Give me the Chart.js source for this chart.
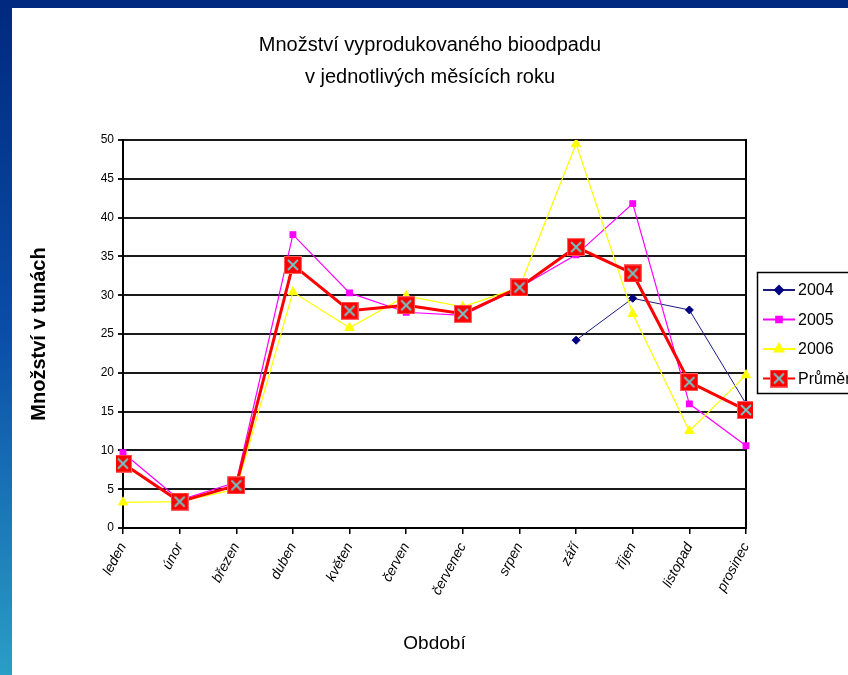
<!DOCTYPE html>
<html>
<head>
<meta charset="utf-8">
<script src="https://cdn.jsdelivr.net/npm/chart.js@4/dist/chart.umd.min.js"></script>
<style>
 html, body { margin: 0; padding: 0; background: #fff; }
 #top { position: absolute; left: 0; top: 0; width: 848px; height: 8px; background: #00297f; }
 #side { position: absolute; left: 0; top: 0; width: 12px; height: 675px; background: linear-gradient(#00297f, #0a4ea8 50%, #2a9ec6); }
 #wrap { position: absolute; left: 12px; top: 8px; width: 836px; height: 667px; }
</style>
</head>
<body>
<div id="top"></div>
<div id="side"></div>
<div id="wrap"><canvas id="myChart" width="836" height="667"></canvas></div>
<script>
const FONT = "'Liberation Sans Narrow', 'Arial Narrow', 'Liberation Sans', sans-serif";

let months = ['leden', 'únor', 'březen', 'duben', 'květen', 'červen', 'červenec', 'srpen', 'září', 'říjen', 'listopad', 'prosinec'];
let yearLabels = ['2004', '2005', '2006', 'Průměr'];
let data2004 = [null, null, null, null, null, null, null, null, 24.2, 29.6, 28.1, 16.0];
let data2005 = [9.7, 3.6, 5.9, 37.8, 30.3, 27.8, 27.4, 31.0, 35.2, 41.8, 16.0, 10.6];
let data2006 = [3.3, 3.4, 5.0, 30.4, 25.8, 29.9, 28.5, 31.0, 49.5, 27.6, 12.5, 19.7];
let dataAvg = [8.3, 3.4, 5.5, 33.9, 28.0, 28.7, 27.6, 31.0, 36.2, 32.8, 18.8, 15.2];
let yTicks = [0, 5, 10, 15, 20, 25, 30, 35, 40, 45, 50];

// red square with cyan cross, the "Průměr" marker
function avgMarker () {
 let c = document.createElement('canvas');
 c.width = 18; c.height = 18;
 let g = c.getContext('2d');
 g.fillStyle = '#ff0000';
 g.fillRect(0, 0, 18, 18);
 g.strokeStyle = '#ff6060';
 g.lineWidth = 1;
 g.strokeRect(0.5, 0.5, 17, 17);
 g.strokeStyle = '#6fc6c6';
 g.lineWidth = 2;
 g.beginPath();
 g.moveTo(4, 4); g.lineTo(14, 14);
 g.moveTo(14, 4); g.lineTo(4, 14);
 g.stroke();
 return c;
}
let marker = avgMarker();

// legend box drawn by hand, so the symbols are line + marker like in the original
const boxLegend = {
 id: 'boxLegend',
 afterDraw (chart) {
  let ctx = chart.ctx;
  let x0 = 745, y0 = 264;
  ctx.save();
  ctx.strokeStyle = '#000';
  ctx.lineWidth = 1.5;
  ctx.strokeRect(x0 + 0.5, y0 + 0.5, 110, 121);
  ctx.font = '16px ' + FONT;
  ctx.textBaseline = 'middle';
  chart.data.datasets.forEach((ds, i) => {
   let y = y0 + 18 + i * 29.5;
   ctx.strokeStyle = ds.borderColor;
   ctx.lineWidth = ds.legendLine;
   ctx.beginPath();
   ctx.moveTo(x0 + 6, y); ctx.lineTo(x0 + 38, y);
   ctx.stroke();
   if (ds.pointStyle instanceof HTMLCanvasElement) {
    ctx.drawImage(ds.pointStyle, x0 + 13, y - 9);
   } else {
    ctx.fillStyle = ds.pointBackgroundColor;
    ctx.strokeStyle = ds.pointBorderColor;
    Chart.helpers.drawPoint(ctx, {pointStyle: ds.pointStyle, radius: ds.pointRadius, borderWidth: 1, rotation: 0}, x0 + 22, y);
   }
   ctx.fillStyle = '#000';
   ctx.fillText(ds.label, x0 + 41, y + 1);
  });
  ctx.restore();
 }
};

function init () {
 let ctx = document.getElementById('myChart').getContext('2d');
 let myChart = new Chart(ctx, {
  type: 'line',
  data: {
   labels: months,
   datasets: [{
    label: yearLabels[0],
    data: data2004,
    borderColor: '#1a1a80',
    backgroundColor: '#1a1a80',
    pointBackgroundColor: '#000080',
    pointBorderColor: '#000080',
    borderWidth: 1,
    legendLine: 2,
    pointStyle: 'rectRot',
    pointRadius: 4,
    order: 3
   }, {
    label: yearLabels[1],
    data: data2005,
    borderColor: '#ff00ff',
    backgroundColor: '#ff00ff',
    pointBackgroundColor: '#ff00ff',
    pointBorderColor: '#ff00ff',
    borderWidth: 1.2,
    legendLine: 2,
    pointStyle: 'rect',
    pointRadius: 4,
    order: 2
   }, {
    label: yearLabels[2],
    data: data2006,
    borderColor: '#ffff00',
    backgroundColor: '#ffff00',
    pointBackgroundColor: '#ffff00',
    pointBorderColor: '#ffff00',
    borderWidth: 1.2,
    legendLine: 2,
    pointStyle: 'triangle',
    pointRadius: 5,
    order: 1
   }, {
    label: yearLabels[3],
    data: dataAvg,
    borderColor: '#ff0000',
    backgroundColor: '#ff0000',
    borderWidth: 3,
    legendLine: 2,
    pointStyle: marker,
    order: 0
   }]
  },
  options: {
   animation: false,
   responsive: false,
   spanGaps: false,
   layout: { padding: { left: 0, right: 0, top: 0, bottom: 7 } },
   plugins: {
    legend: { display: false },
    tooltip: { enabled: false },
    title: {
     display: true,
     text: ['Množství vyprodukovaného bioodpadu', 'v jednotlivých měsících roku'],
     color: '#000',
     font: { family: FONT, size: 20, weight: 'normal', lineHeight: 1.6 },
     padding: { top: 21, bottom: 47 }
    }
   },
   scales: {
    x: {
     offset: false,
     grid: { drawOnChartArea: false, drawTicks: true, tickLength: 6, color: '#000', lineWidth: 1.5 },
     border: { color: '#000', width: 2 },
     ticks: { color: '#000', font: { family: FONT, size: 14, style: 'italic' }, minRotation: 62, maxRotation: 62, padding: 6, autoSkip: false },
     title: { display: true, text: 'Období', color: '#000', font: { family: FONT, size: 19 }, padding: { top: 0, bottom: 13 } },
     afterFit: (s) => { s.height = 140; }
    },
    y: {
     min: 0,
     max: 50,
     afterBuildTicks: (s) => { s.ticks = yTicks.map(v => ({value: v})); },
     grid: { color: '#1a1a1a', lineWidth: 2, tickLength: 5 },
     border: { color: '#000', width: 2 },
     ticks: { color: '#000', font: { family: FONT, size: 12 }, padding: 4 },
     title: { display: true, text: 'Množství v tunách', color: '#000', font: { family: FONT, size: 20, weight: 'bold' }, padding: { top: 15, bottom: 0 } },
     afterFit: (s) => { s.width = 111; }
    },
    yRight: {
     position: 'right',
     min: 0,
     max: 50,
     grid: { display: false },
     ticks: { display: false },
     border: { display: true, color: '#000', width: 2 },
     afterFit: (s) => { s.width = 102; }
    }
   }
  },
  plugins: [boxLegend]
 });
}

window.onload = init;
</script>
</body>
</html>
